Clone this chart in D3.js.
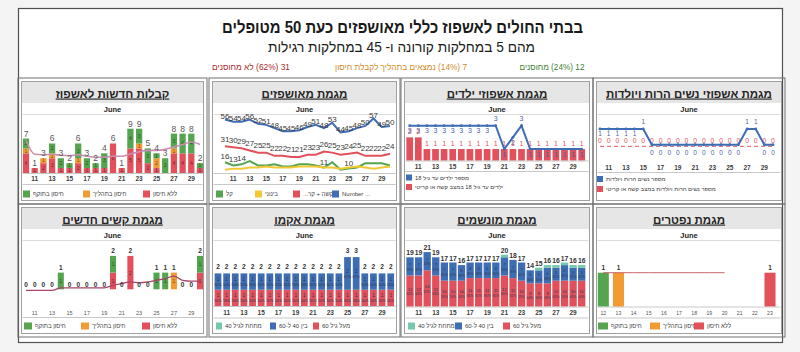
<!DOCTYPE html>
<html><head><meta charset="utf-8">
<script src="https://cdn.jsdelivr.net/npm/d3@7"></script>
<style>
body{margin:0;background:#f4f4f4;}
svg{display:block;font-family:"Liberation Sans",Arial,"DejaVu Sans",sans-serif;}
</style></head><body>
<svg id="c" width="800" height="352"></svg>
<script>
// ---------------- DATA ----------------
const days=[10,11,12,13,14,15,16,17,18,19,20,21,22,23,24,25,26,27,28,29,30];
const tickDays=[11,13,15,17,19,21,23,25,27,29];
// new admissions
const admUnvacc=[4,1,2,3,1,1,2,1,1,1,6,1,5,5,2,1,0,4,4,4,1];
const admInProc=[1,0,1,1,0,0,1,0,0,0,0,0,0,1,0,2,0,1,0,0,0];
const admVacc  =[2,0,0,2,2,1,3,2,1,3,0,0,4,3,3,1,3,3,4,4,1];
const admTrend =[6.6,3.8,3.7,3.8,3.6,3.5,3.7,3.4,3.2,3.2,3.4,3.4,3.9,4.3,4.6,4.6,4.8,5.3,5.8,6.3,5.8];
// hospitalized
const hospTotal   =[56,54,54,56,52,51,48,45,45,46,49,51,48,53,44,45,48,50,57,49,50];
const hospSevere  =[31,30,29,27,25,25,22,22,21,21,23,23,26,25,23,24,25,22,22,22,24];
const hospModerate=[9,10,10,11,11,12,11,11,11,12,12,12,11,11,10,11,12,11,10,11,12];
const hospMild    =[16,13,14,17,13,13,14,12,12,14,14,13,11,16,9,10,11,15,15,15,13];
const hospMildLabels=[16,13,14,null,null,null,null,null,null,null,null,null,11,null,null,10,null,null,null,null,null];
// children
const kidsTotal =[3,3,3,3,3,3,3,3,3,3,3,1,2,3,1,1,1,1,1,1,1];
const kidsSevere=[2,2,1,1,1,1,1,1,1,1,1,1,1,1,1,1,1,1,1,1,1];
// pregnant
const pregTotal =[1,1,1,1,1,1,0,0,0,0,0,0,0,0,0,0,0,1,1,0,0];
const pregSevere=[0,0,0,0,0,0,0,0,0,0,0,0,0,0,0,0,0,0,0,0,0];
// new severe
const sevUnvacc=[0,0,0,0,0,0,0,0,0,0,1,0,2,0,0,0,0,0,0,0,1];
const sevInProc=[0,0,0,0,0,0,0,0,0,0,0,0,0,0,0,0,0,1,0,0,0];
const sevVacc  =[0,0,0,0,1,0,0,0,0,0,1,0,0,0,0,1,1,0,0,0,1];
const sevTrend =[0,0,0,0,0.15,0.15,0.15,0.15,0.15,0.15,0.3,0.4,0.5,0.45,0.5,0.6,0.7,0.85,0.6,0.55,0.55];
// ECMO
const ecmoOver60 =[1,1,1,1,1,1,1,1,1,1,1,1,1,1,1,1,1,1,1,1,1];
const ecmo40to60 =[1,1,1,1,1,1,1,1,1,1,1,1,1,1,1,2,2,1,1,1,1];
const ecmoUnder40=[0,0,0,0,0,0,0,0,0,0,0,0,0,0,0,0,0,0,0,0,0];
// ventilated
const ventOver60 =[12,12,14,12,10,10,10,11,11,11,11,12,11,10,9,9,9,10,10,10,10];
const vent40to60 =[7,7,7,7,7,7,6,6,6,6,6,7,7,7,5,5,6,5,6,5,5];
const ventUnder40=[0,0,0,0,0,0,0,0,0,0,0,1,0,0,0,1,1,1,1,1,1];
// deaths
const deathDays  =[12,13,14,15,16,17,18,19,20,21,22,23];
const deathVacc  =[1,0,0,0,0,0,0,0,0,0,0,0];
const deathInProc=[0,1,0,0,0,0,0,0,0,0,0,0];
const deathUnvacc=[0,0,0,0,0,0,0,0,0,0,0,1];
const deathTrend =[1,1,1,1,1,1,1,1,1,null,null,null];

// ---------------- STYLE ----------------
const GREEN="#55a44f",ORANGE="#f29a33",RED="#e2515b",BLUE="#3f6db3",YELLOW="#f2c935",TEAL="#74c8ab";
const svg=d3.select("#c");
svg.append("rect").attr("width",800).attr("height",352).attr("fill","#f4f4f4");
svg.append("rect").attr("x",18.5).attr("y",8.5).attr("width",764).attr("height",334).attr("fill","#fff").attr("stroke","#505050").attr("stroke-width",1.2);

function txt(x,y,s,o){
  const t=svg.append("text").attr("x",x).attr("y",y).text(s)
    .attr("font-size",o.fs||8).attr("fill",o.fill||"#333").attr("text-anchor",o.anchor||"middle");
  if(o.bold) t.attr("font-weight","bold");
  if(o.rtl) t.attr("direction","rtl").style("direction","rtl").style("unicode-bidi","embed");
  if(o.len) t.attr("textLength",o.len).attr("lengthAdjust","spacingAndGlyphs");
  if(o.ul) t.style("text-decoration","underline");
  return t;
}
// header
txt(402.5,33,"בבתי החולים לאשפוז כללי מאושפזים כעת 50 מטופלים",{fs:17,bold:true,fill:"#1a1a1a",rtl:true,len:361});
txt(401.5,51.5,"מהם 5 במחלקות קורונה ו- 45 במחלקות רגילות",{fs:14,fill:"#1a1a1a",rtl:true,len:267});
txt(552,70,"12 (24%) מחוסנים",{fs:8.5,fill:"#3f7f35",rtl:true,len:65});
txt(401,70,"7 (14%) נמצאים בתהליך לקבלת חיסון",{fs:8.5,fill:"#d08a2a",rtl:true,len:132});
txt(251,70,"31 (62%) לא מחוסנים",{fs:8.5,fill:"#a8282a",rtl:true,len:78});

const cols=[[21.5,203.5],[212.5,396.5],[404.5,589.5],[596.5,781.5]];
const rows=[[81.5,200.5],[207.5,333.5]];
function frame(ci,ri,title){
  const [x0,x1]=cols[ci],[y0,y1]=rows[ri];
  svg.append("rect").attr("x",x0-3.5).attr("y",y0-3.5).attr("width",x1-x0+7).attr("height",y1-y0+7).attr("fill","none").attr("stroke","#707070");
  svg.append("rect").attr("x",x0).attr("y",y0).attr("width",x1-x0).attr("height",y1-y0).attr("fill","#fff").attr("stroke","#a0a0a0");
  svg.append("rect").attr("x",x0+0.5).attr("y",y0+0.5).attr("width",x1-x0-1).attr("height",21).attr("fill","#e6e6e6");
  txt((x0+x1)/2,y0+16,title,{fs:11.5,bold:true,fill:"#262626",rtl:true,ul:true});
  txt((x0+x1)/2,y0+30.5,"June",{fs:7.5,bold:true,fill:"#262626"});
  svg.append("line").attr("x1",x0+1).attr("x2",x1-1).attr("y1",y0+33).attr("y2",y0+33).attr("stroke","#dcdcdc");
  return {x0,x1,y0,y1};
}
function hline(x0,x1,y,c){svg.append("line").attr("x1",x0).attr("x2",x1).attr("y1",y).attr("y2",y).attr("stroke",c||"#c8c8c8");}
function bandFrom(domain,c0,c1,p){const s=(c1-c0)/(domain.length-1);
  return d3.scaleBand().domain(domain).range([c0-s/2,c1+s/2]).paddingInner(p).paddingOuter(p/2);}
function ticksAt(x,ticks,yb,o){
  const bw=x.bandwidth?x.bandwidth()/2:0;
  svg.append("g").selectAll("text").data(ticks).join("text")
    .attr("x",d=>x(d)+bw).attr("y",yb).attr("text-anchor","middle")
    .attr("font-size",o.fs).attr("font-weight",o.bold?"bold":"normal").attr("fill",o.fill||"#505050").text(d=>d);
}
function legend(items,yc,o){
  const g=svg.append("g");
  items.forEach(it=>{
    g.append("rect").attr("x",it[0]).attr("y",yc-(o.sh||7)/2).attr("width",o.sw||7).attr("height",o.sh||7).attr("fill",it[1]);
    const t=g.append("text").attr("x",it[0]+(o.sw||7)+3).attr("y",yc+2).attr("font-size",o.fs||6).attr("fill","#404040").text(it[2]);
    if(it[3]){t.attr("direction","rtl").style("direction","rtl").attr("text-anchor","end");}
  });
}
function stackBars(cats,keys,arrays,colors,x,y){
  const table=cats.map((d,i)=>{const r={day:d};keys.forEach((k,j)=>r[k]=arrays[j][i]);return r;});
  const st=d3.stack().keys(keys)(table);
  svg.append("g").selectAll("g").data(st).join("g").attr("fill",(d,i)=>colors[i])
    .selectAll("rect").data(d=>d.filter(s=>s[1]>s[0])).join("rect")
    .attr("x",d=>x(d.data.day)).attr("width",x.bandwidth())
    .attr("y",d=>y(d[1])).attr("height",d=>y(d[0])-y(d[1]));
  return {st,table};
}
function segLabels(st,x,y,minH,fs,withPct,keys){
  const g=svg.append("g");
  st.forEach(layer=>{
    layer.forEach(s=>{
      const v=s[1]-s[0]; if(v<=0) return;
      const h=y(s[0])-y(s[1]); if(h<minH) return;
      const cx=x(s.data.day)+x.bandwidth()/2, cy=(y(s[0])+y(s[1]))/2;
      if(withPct){
        const tot=keys.reduce((a,k)=>a+s.data[k],0);
        g.append("text").attr("x",cx).attr("y",cy-0.5).attr("text-anchor","middle").attr("font-size",fs).attr("fill","#2a3550").text(v);
        g.append("text").attr("x",cx).attr("y",cy+fs).attr("text-anchor","middle").attr("font-size",fs*0.8).attr("fill","#2a3550").text(Math.round(v/tot*100)+"%");
      } else {
        g.append("text").attr("x",cx).attr("y",cy+fs*0.35).attr("text-anchor","middle").attr("font-size",fs).attr("fill","rgba(0,0,0,0.55)").text(v);
      }
    });
  });
}
function totLabels(cats,totals,x,y,off,o){
  svg.append("g").selectAll("text").data(cats).join("text")
    .attr("x",d=>x(d)+x.bandwidth()/2).attr("y",(d,i)=>y(totals[i])-off).attr("text-anchor","middle")
    .attr("font-size",o.fs).attr("font-weight",o.bold?"bold":"normal").attr("fill",o.fill).text((d,i)=>totals[i]);
}
const sum=(...a)=>a[0].map((_,i)=>a.reduce((s,arr)=>s+arr[i],0));

// ---------- P1: new admissions ----------
(function(){
  const f=frame(0,0,"קבלות חדשות לאשפוז");
  const x=bandFrom(days,26,200,0.28);
  const y=d3.scaleLinear().domain([0,9]).range([173,173-9*4.92]);
  const {st}=stackBars(days,["u","p","v"],[admUnvacc,admInProc,admVacc],[RED,ORANGE,GREEN],x,y);
  segLabels(st,x,y,4.5,5,false);
  svg.append("path").datum(admTrend).attr("fill","none").attr("stroke","#c98db4").attr("stroke-width",1.6)
    .attr("d",d3.line().x((d,i)=>x(days[i])+x.bandwidth()/2).y(d=>y(d)).curve(d3.curveMonotoneX));
  totLabels(days,sum(admUnvacc,admInProc,admVacc),x,y,2,{fs:8.5,fill:"#5a5a5a"});
  hline(f.x0+1,f.x1-1,173.5,"#c8c8c8");
  ticksAt(x,tickDays,181,{fs:6.5,bold:true,fill:"#404040"});
  hline(f.x0+1,f.x1-1,184.5,"#c8c8c8");
  legend([[23,GREEN,"חיסון בתוקף"],[83,ORANGE,"חיסון בתהליך"],[143,RED,"ללא חיסון"]],194,{fs:6});
})();

// ---------- P2: hospitalized ----------
(function(){
  const f=frame(1,0,"מגמת מאושפזים");
  const x=d3.scalePoint().domain(days).range([225,390]);
  const y=d3.scaleLinear().domain([0,60]).range([179.3,179.3-60*1.067]);
  const line=d3.line().x((d,i)=>x(days[i])).y(d=>y(d));
  const series=[[hospMild,GREEN],[hospModerate,YELLOW],[hospSevere,RED],[hospTotal,BLUE]];
  series.forEach(([v,c])=>svg.append("path").datum(v).attr("fill","none").attr("stroke",c).attr("stroke-width",2).attr("d",line));
  const lab=(vals,off)=>svg.append("g").selectAll("text").data(days).join("text")
    .attr("x",d=>x(d)).attr("y",(d,i)=>y(vals[i]===null?0:vals[i])-off).attr("text-anchor","middle")
    .attr("font-size",8).attr("fill","#3a3a3a").text((d,i)=>vals[i]===null?"":vals[i]);
  lab(hospTotal,0.5); lab(hospSevere,4.5); lab(hospMildLabels,3);
  hline(f.x0+1,f.x1-1,173.5,"#c8c8c8");
  ticksAt(x,tickDays,181,{fs:6.5,bold:true,fill:"#404040"});
  hline(f.x0+1,f.x1-1,184.5,"#c8c8c8");
  legend([[216,GREEN,"קל"],[255,YELLOW,"בינוני"],[293,RED,"קשה + קר...",true],[332,BLUE,"Number ..."]],194,{fs:6});
})();

// ---------- P3: children ----------
(function(){
  const f=frame(2,0,"מגמת אשפוזי ילדים");
  const x=bandFrom(days,409.7,581.7,0.22);
  const y=d3.scaleLinear().domain([0,3]).range([160.7,160.7-3*11.67]);
  const cx=d=>x(d)+x.bandwidth()/2;
  svg.append("g").selectAll("rect").data(days).join("rect").attr("fill",RED)
    .attr("x",d=>x(d)).attr("width",x.bandwidth()).attr("y",(d,i)=>y(kidsSevere[i])).attr("height",(d,i)=>y(0)-y(kidsSevere[i]));
  svg.append("g").selectAll("text").data(days).join("text").attr("x",cx).attr("y",(d,i)=>y(kidsSevere[i])-3.5)
    .attr("text-anchor","middle").attr("font-size",7).attr("fill",RED).text((d,i)=>kidsSevere[i]);
  svg.append("path").datum(kidsTotal).attr("fill","none").attr("stroke",BLUE).attr("stroke-width",2)
    .attr("d",d3.line().x((d,i)=>cx(days[i])).y(d=>y(d)));
  svg.append("g").selectAll("circle").data(days).join("circle").attr("cx",cx).attr("cy",(d,i)=>y(kidsTotal[i])).attr("r",1.4).attr("fill",BLUE);
  svg.append("g").selectAll("text").data(days).join("text").attr("x",cx)
    .attr("y",(d,i)=>{const v=kidsTotal[i],n=kidsTotal[i+1];return (n!==undefined&&n<v)?y(v)-4.5:y(v)+7.5;})
    .attr("text-anchor","middle").attr("font-size",7).attr("fill","#4b62a8").text((d,i)=>kidsTotal[i]);
  hline(f.x0+1,f.x1-1,161,"#c8c8c8");
  ticksAt(x,tickDays,168.8,{fs:6.5,bold:true,fill:"#404040"});
  hline(f.x0+1,f.x1-1,171.5,"#c8c8c8");
  legend([[406,BLUE,"מספר ילדים עד גיל 18"]],177.5,{fs:5.8,sw:6,sh:6});
  legend([[406,RED,"ילדים עד גיל 18 במצב קשה או קריטי"]],187,{fs:5.8,sw:6,sh:6});
})();

// ---------- P4: pregnant ----------
(function(){
  const f=frame(3,0,"מגמת אשפוזי נשים הרות ויולדות");
  const x=d3.scalePoint().domain(days).range([600,773]);
  const y=d3.scaleLinear().domain([0,1]).range([144.7,129]);
  svg.append("path").datum(pregSevere).attr("fill","none").attr("stroke","#e57a80").attr("stroke-width",1.2).attr("stroke-dasharray","4,3")
    .attr("d",d3.line().x((d,i)=>x(days[i])).y(d=>y(d)+1.6));
  svg.append("g").selectAll("text").data(days).join("text").attr("x",d=>x(d)).attr("y",(d,i)=>y(pregSevere[i])-2)
    .attr("text-anchor","middle").attr("font-size",6.8).attr("fill","#e0525a").text((d,i)=>pregSevere[i]);
  svg.append("path").datum(pregTotal).attr("fill","none").attr("stroke",BLUE).attr("stroke-width",2)
    .attr("d",d3.line().x((d,i)=>x(days[i])).y(d=>y(d)));
  svg.append("g").selectAll("circle").data(days).join("circle").attr("cx",d=>x(d)).attr("cy",(d,i)=>y(pregTotal[i])).attr("r",1.4).attr("fill",BLUE);
  svg.append("g").selectAll("text").data(days).join("text").attr("x",d=>x(d))
    .attr("y",(d,i)=>{const v=pregTotal[i],p=pregTotal[i-1],n=pregTotal[i+1];
      const up=(p!==undefined&&p<v)||(n!==undefined&&n<v);return up?y(v)-5.5:(v>0?y(v)+7:y(v)+10);})
    .attr("text-anchor","middle").attr("font-size",6.5).attr("fill","#4b62a8").text((d,i)=>pregTotal[i]);
  ticksAt(x,tickDays,169.8,{fs:6.5,bold:true,fill:"#404040"});
  hline(f.x0+1,f.x1-1,172.5,"#c8c8c8");
  legend([[597,BLUE,"מספר נשים הרות ויולדות"]],179,{fs:5.8,sw:6,sh:6});
  legend([[597,RED,"מספר נשים הרות ויולדות במצב קשה או קריטי"]],189,{fs:5.8,sw:6,sh:6});
})();

// ---------- P5: new severe ----------
(function(){
  const f=frame(0,1,"מגמת קשים חדשים");
  const x=bandFrom(days,26,200,0.3);
  const y=d3.scaleLinear().domain([0,2]).range([289.3,289.3-2*16.7]);
  const {st}=stackBars(days,["u","p","v"],[sevUnvacc,sevInProc,sevVacc],[RED,ORANGE,GREEN],x,y);
  segLabels(st,x,y,6,5.5,false);
  svg.append("path").datum(sevTrend).attr("fill","none").attr("stroke","#a8456c").attr("stroke-width",1.3)
    .attr("d",d3.line().x((d,i)=>x(days[i])+x.bandwidth()/2).y(d=>y(d)+1).curve(d3.curveMonotoneX));
  totLabels(days,sum(sevUnvacc,sevInProc,sevVacc),x,y,2.5,{fs:6.5,bold:true,fill:"#333"});
  ticksAt(x,tickDays,314.5,{fs:5.5,fill:"#555"});
  hline(f.x0+1,f.x1-1,317.5,"#c8c8c8");
  legend([[24,GREEN,"חיסון בתוקף"],[81,ORANGE,"חיסון בתהליך"],[142,RED,"ללא חיסון"]],326,{fs:6,sw:8});
})();

// ---------- P6: ECMO ----------
(function(){
  const f=frame(1,1,"מגמת אקמו");
  const x=bandFrom(days,218,390.7,0.22);
  const y=d3.scaleLinear().domain([0,3]).range([306,306-3*16.3]);
  const keys=["o","m","u"];
  const {st}=stackBars(days,keys,[ecmoOver60,ecmo40to60,ecmoUnder40],[RED,BLUE,TEAL],x,y);
  segLabels(st,x,y,8,4.6,true,keys);
  totLabels(days,sum(ecmoOver60,ecmo40to60,ecmoUnder40),x,y,4,{fs:6.5,bold:true,fill:"#333"});
  hline(f.x0+1,f.x1-1,306.5,"#c8c8c8");
  ticksAt(x,tickDays,314.8,{fs:6.5,bold:true,fill:"#404040"});
  hline(f.x0+1,f.x1-1,318,"#c8c8c8");
  legend([[216,TEAL,"מתחת לגיל 40"],[270,BLUE,"בין 40 ל-60"],[313,RED,"מעל גיל 60"]],326,{fs:6,sw:6});
})();

// ---------- P7: ventilated ----------
(function(){
  const f=frame(2,1,"מגמת מונשמים");
  const x=bandFrom(days,410,581.7,0.15);
  const y=d3.scaleLinear().domain([0,21]).range([306.7,306.7-21*2.6]);
  const keys=["o","m","u"];
  const {st}=stackBars(days,keys,[ventOver60,vent40to60,ventUnder40],[RED,BLUE,TEAL],x,y);
  segLabels(st,x,y,10,4.2,true,keys);
  totLabels(days,sum(ventOver60,vent40to60,ventUnder40),x,y,2,{fs:6.8,bold:true,fill:"#333"});
  hline(f.x0+1,f.x1-1,307,"#c8c8c8");
  ticksAt(x,tickDays,314.8,{fs:6.5,bold:true,fill:"#404040"});
  hline(f.x0+1,f.x1-1,318,"#c8c8c8");
  legend([[408,TEAL,"מתחת לגיל 40"],[455,BLUE,"בין 40 ל-60"],[503,RED,"מעל גיל 60"]],326,{fs:6,sw:7});
})();

// ---------- P8: deaths ----------
(function(){
  const f=frame(3,1,"מגמת נפטרים");
  const x=bandFrom(deathDays,603.3,770,0.27);
  const y=d3.scaleLinear().domain([0,1]).range([306.7,272.7]);
  stackBars(deathDays,["v","p","u"],[deathVacc,deathInProc,deathUnvacc],[GREEN,ORANGE,RED],x,y);
  const tot=sum(deathVacc,deathInProc,deathUnvacc);
  svg.append("g").selectAll("text").data(deathDays.filter((d,i)=>tot[i]>0)).join("text")
    .attr("x",d=>x(d)+x.bandwidth()/2).attr("y",y(1)-2.5).attr("text-anchor","middle")
    .attr("font-size",6.5).attr("font-weight","bold").attr("fill","#333").text(d=>tot[deathDays.indexOf(d)]);
  svg.append("path").datum(deathTrend).attr("fill","none").attr("stroke","#c8646a").attr("stroke-width",1)
    .attr("d",d3.line().defined(d=>d!==null).x((d,i)=>x(deathDays[i])+x.bandwidth()/2).y(d=>y(d)));
  hline(f.x0+1,f.x1-1,307,"#c8c8c8");
  ticksAt(x,deathDays,314.8,{fs:5.2,fill:"#555"});
  hline(f.x0+1,f.x1-1,318,"#c8c8c8");
  legend([[598,GREEN,"חיסון בתוקף"],[650,ORANGE,"חיסון בתהליך"],[694,RED,"ללא חיסון"]],326,{fs:6,sw:10,sh:7});
})();
</script></body></html>
